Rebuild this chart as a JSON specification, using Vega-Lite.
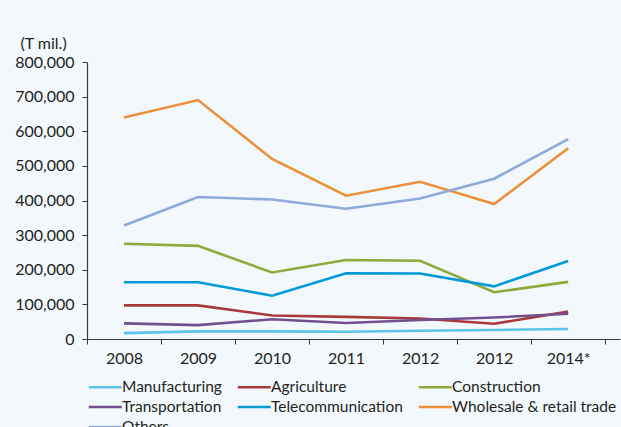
{
  "$schema": "https://vega.github.io/schema/vega-lite/v6.json",
  "width": 533,
  "height": 277,
  "autosize": {"type": "none"},
  "padding": {"left": 87, "top": 62, "right": 1, "bottom": 88},
  "background": "#f3f8fc",
  "config": {
    "view": {"stroke": null},
    "font": "Lato",
    "axis": {"labelFont": "Lato", "titleFont": "Lato", "labelColor": "#231f20", "titleColor": "#231f20", "domainColor": "#3a3a3a", "tickColor": "#3a3a3a", "grid": false, "labelFontSize": 16}
  },
  "data": {"values": [
    {"year": "2008", "sector": "Manufacturing", "value": 17000},
    {"year": "2009", "sector": "Manufacturing", "value": 22000},
    {"year": "2010", "sector": "Manufacturing", "value": 22000},
    {"year": "2011", "sector": "Manufacturing", "value": 21000},
    {"year": "2012", "sector": "Manufacturing", "value": 24000},
    {"year": "2012 ", "sector": "Manufacturing", "value": 26000},
    {"year": "2014*", "sector": "Manufacturing", "value": 29000},
    {"year": "2008", "sector": "Agriculture", "value": 97000},
    {"year": "2009", "sector": "Agriculture", "value": 97000},
    {"year": "2010", "sector": "Agriculture", "value": 68000},
    {"year": "2011", "sector": "Agriculture", "value": 64000},
    {"year": "2012", "sector": "Agriculture", "value": 59000},
    {"year": "2012 ", "sector": "Agriculture", "value": 44000},
    {"year": "2014*", "sector": "Agriculture", "value": 79000},
    {"year": "2008", "sector": "Construction", "value": 275000},
    {"year": "2009", "sector": "Construction", "value": 269000},
    {"year": "2010", "sector": "Construction", "value": 192000},
    {"year": "2011", "sector": "Construction", "value": 228000},
    {"year": "2012", "sector": "Construction", "value": 226000},
    {"year": "2012 ", "sector": "Construction", "value": 135000},
    {"year": "2014*", "sector": "Construction", "value": 165000},
    {"year": "2008", "sector": "Transportation", "value": 45000},
    {"year": "2009", "sector": "Transportation", "value": 40000},
    {"year": "2010", "sector": "Transportation", "value": 57000},
    {"year": "2011", "sector": "Transportation", "value": 46000},
    {"year": "2012", "sector": "Transportation", "value": 55000},
    {"year": "2012 ", "sector": "Transportation", "value": 62000},
    {"year": "2014*", "sector": "Transportation", "value": 73000},
    {"year": "2008", "sector": "Telecommunication", "value": 164000},
    {"year": "2009", "sector": "Telecommunication", "value": 164000},
    {"year": "2010", "sector": "Telecommunication", "value": 125000},
    {"year": "2011", "sector": "Telecommunication", "value": 190000},
    {"year": "2012", "sector": "Telecommunication", "value": 189000},
    {"year": "2012 ", "sector": "Telecommunication", "value": 152000},
    {"year": "2014*", "sector": "Telecommunication", "value": 225000},
    {"year": "2008", "sector": "Wholesale & retail trade", "value": 640000},
    {"year": "2009", "sector": "Wholesale & retail trade", "value": 690000},
    {"year": "2010", "sector": "Wholesale & retail trade", "value": 520000},
    {"year": "2011", "sector": "Wholesale & retail trade", "value": 414000},
    {"year": "2012", "sector": "Wholesale & retail trade", "value": 454000},
    {"year": "2012 ", "sector": "Wholesale & retail trade", "value": 390000},
    {"year": "2014*", "sector": "Wholesale & retail trade", "value": 551000},
    {"year": "2008", "sector": "Others", "value": 328000},
    {"year": "2009", "sector": "Others", "value": 410000},
    {"year": "2010", "sector": "Others", "value": 403000},
    {"year": "2011", "sector": "Others", "value": 376000},
    {"year": "2012", "sector": "Others", "value": 406000},
    {"year": "2012 ", "sector": "Others", "value": 463000},
    {"year": "2014*", "sector": "Others", "value": 577000}
  ]},
  "mark": {"type": "line", "strokeWidth": 2.6},
  "encoding": {
    "x": {
      "field": "year", "type": "ordinal",
      "scale": {"domain": ["2008", "2009", "2010", "2011", "2012", "2012 ", "2014*"], "paddingOuter": 0.1, "align": 0},
      "axis": {"title": null, "labelAngle": 0, "tickBand": "extent", "tickSize": 5, "labelPadding": 6, "domainWidth": 1.2}
    },
    "y": {
      "field": "value", "type": "quantitative",
      "scale": {"domain": [0, 800000], "nice": false},
      "axis": {"values": [0, 100000, 200000, 300000, 400000, 500000, 600000, 700000, 800000], "format": ",d", "tickSize": 5, "labelPadding": 8, "domainWidth": 1.2,
        "title": "(T mil.)", "titleAngle": 0, "titleAlign": "left", "titleBaseline": "middle", "titleX": -67, "titleY": -19, "titleFontSize": 16, "titleFontWeight": "normal"}
    },
    "color": {
      "field": "sector", "type": "nominal",
      "scale": {
        "domain": ["Manufacturing", "Agriculture", "Construction", "Transportation", "Telecommunication", "Wholesale & retail trade", "Others"],
        "range": ["#5bc3ea", "#a83a3c", "#8dac3c", "#71508f", "#0099d8", "#ea9139", "#8eaadd"]
      },
      "legend": {
        "title": null, "orient": "none", "legendX": 0, "legendY": 315, "direction": "horizontal", "columns": 3,
        "symbolType": "M-1,0H3", "symbolSize": 272, "symbolStrokeWidth": 2.6, "labelFontSize": 15.5, "labelFont": "Lato", "labelColor": "#231f20",
        "labelOffset": 15, "columnPadding": 10, "rowPadding": 1, "labelLimit": 300
      }
    }
  }
}
